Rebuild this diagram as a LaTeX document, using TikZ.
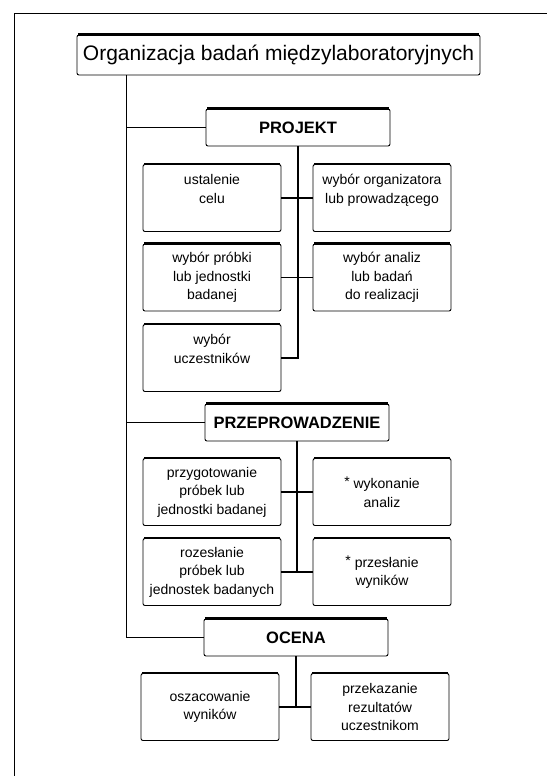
\documentclass[tikz,border=0pt]{standalone}
\usepackage{fontspec}
\setmainfont{Liberation Sans}
\begin{document}
\begin{tikzpicture}[x=1pt,y=-1pt,
        box/.style={draw,line width=0.9pt,rounded corners=2pt,align=center,inner sep=2pt,
            font=\fontsize{14}{18.5}\selectfont,minimum width=138pt,minimum height=67pt},
        head/.style={box,font=\fontsize{16.5}{18}\selectfont\bfseries,
            minimum width=184pt,minimum height=37pt},
        link/.style={line width=1.2pt}]
        \useasboundingbox (0,0) rectangle (547,776);
        %% page frame
        \draw[line width=0.6pt] (14,776) -- (14,13) -- (547,13);
        %% title
        \node[box,font=\fontsize{21}{24}\selectfont,minimum width=403pt,minimum height=40pt]
            (tytul) at (278.5,55) {Organizacja badań międzylaboratoryjnych};
        %% stages
        \node[head] (projekt) at (298,127.5) {PROJEKT};
        \node[head] (przeprow) at (297,422.5) {PRZEPROWADZENIE};
        \node[head] (ocena) at (296,637.5) {OCENA};
        %% PROJEKT
        \node[box] (cel) at (212,198) {ustalenie\\celu\\\mbox{}};
        \node[box] (organiz) at (382,198) {wybór organizatora\\lub prowadzącego\\\mbox{}};
        \node[box] (probka) at (212,277.5) {wybór próbki\\lub jednostki\\badanej};
        \node[box] (analizy) at (382,277.5) {wybór analiz\\lub badań\\do realizacji};
        \node[box] (uczest) at (212,358) {wybór\\uczestników\\\mbox{}};
        %% PRZEPROWADZENIE
        \node[box] (przyg) at (212,492) {przygotowanie\\próbek lub\\jednostki badanej};
        \node[box] (wykon) at (382,492) {\raisebox{2pt}{*} wykonanie\\analiz};
        \node[box] (rozsyl) at (212,572) {rozesłanie\\próbek lub\\jednostek badanych};
        \node[box] (przesl) at (382,572) {\raisebox{2pt}{*} przesłanie\\wyników};
        %% OCENA
        \node[box] (oszac) at (210,707) {oszacowanie\\wyników};
        \node[box] (przekaz) at (380,707) {przekazanie\\rezultatów\\uczestnikom};
        %% thick top edges
        \foreach \n in {tytul,projekt,przeprow,ocena,cel,organiz,probka,analizy,uczest,
                przyg,wykon,rozsyl,przesl,oszac,przekaz}
            \draw[line width=2.2pt] ([xshift=1.5pt]\n.north west) -- ([xshift=-1.5pt]\n.north east);
        %% main line
        \coordinate (pien) at ([xshift=50pt]tytul.south west);
        \draw[link] (pien) |- (ocena.west);
        \draw[link] (projekt.west) -- (projekt.west -| pien);
        \draw[link] (przeprow.west) -- (przeprow.west -| pien);
        %% branches
        \draw[link] (projekt.south) |- (uczest.east);
        \draw[link] (cel.east) -- (organiz.west);
        \draw[link] (probka.east) -- (analizy.west);
        \draw[link] (przeprow.south) -- (przeprow.south |- rozsyl.east);
        \draw[link] (przyg.east) -- (wykon.west);
        \draw[link] (rozsyl.east) -- (przesl.west);
        \draw[link] (ocena.south) -- (ocena.south |- oszac.east);
        \draw[link] (oszac.east) -- (przekaz.west);
\end{tikzpicture}
\end{document}
